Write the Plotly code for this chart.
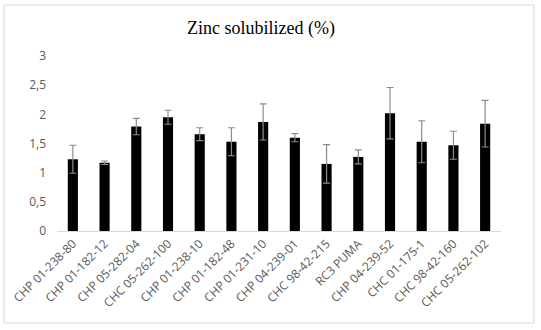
import plotly.graph_objects as go

categories = ["CHP 01-238-80", "CHP 01-182-12", "CHP 05-282-04", "CHC 05-262-100",
              "CHP 01-238-10", "CHP 01-182-48", "CHP 01-231-10", "CHP 04-239-01",
              "CHC 98-42-215", "RC3 PUMA", "CHP 04-239-52", "CHC 01-175-1",
              "CHC 98-42-160", "CHC 05-262-102"]
values = [1.23, 1.17, 1.79, 1.95, 1.66, 1.53, 1.87, 1.60, 1.15, 1.27, 2.02, 1.53, 1.47, 1.84]
errors = [0.24, 0.03, 0.14, 0.12, 0.11, 0.24, 0.31, 0.07, 0.33, 0.12, 0.44, 0.36, 0.24, 0.40]
y_ticks = [0, 0.5, 1, 1.5, 2, 2.5, 3]
y_tick_labels = ["0", "0,5", "1", "1,5", "2", "2,5", "3"]

fig = go.Figure(go.Bar(
    x=categories, y=values,
    marker=dict(color="black", line=dict(width=0)),
    error_y=dict(type="data", array=errors, visible=True, color="#8c8c8c", thickness=1.2, width=3.5),
))

W, H = 541, 330
L, R, T, B = 57, 40, 56, 99
pw, ph = W - L - R, H - T - B

def px_to_paper_x(px):
    return (px - L) / pw

def px_to_paper_y(py):
    return (H - B - py) / ph

fig.update_layout(
    width=W, height=H,
    margin=dict(l=L, r=R, t=T, b=B, autoexpand=False),
    paper_bgcolor="white", plot_bgcolor="white",
    bargap=0.68,
    showlegend=False,
    title=dict(text="Zinc solubilized (%)", x=261 / W, xanchor="center", xref="container",
               y=1 - 28 / H, yanchor="middle",
               font=dict(family="Liberation Serif, Times New Roman, serif", size=18, color="black")),
    xaxis=dict(tickangle=-45, automargin=False,
               tickfont=dict(family="Open Sans", size=12, color="#595959"),
               showline=True, linecolor="#d9d9d9", linewidth=1, ticks="", showgrid=False),
    yaxis=dict(range=[0, 3], tickvals=y_ticks, ticktext=y_tick_labels, automargin=False,
               tickfont=dict(family="Open Sans", size=12, color="#595959"),
               showgrid=False, zeroline=False, showline=False, ticks="", ticklabelstandoff=10),
    shapes=[dict(type="rect", xref="paper", yref="paper",
                 x0=px_to_paper_x(4), x1=px_to_paper_x(534),
                 y0=px_to_paper_y(323), y1=px_to_paper_y(5),
                 line=dict(color="#d9d9d9", width=1), fillcolor="rgba(0,0,0,0)", layer="below")],
)

fig.write_html("out.html",
               config={"displayModeBar": False},
               post_script="document.body.style.margin='0';document.body.style.overflow='hidden';")
